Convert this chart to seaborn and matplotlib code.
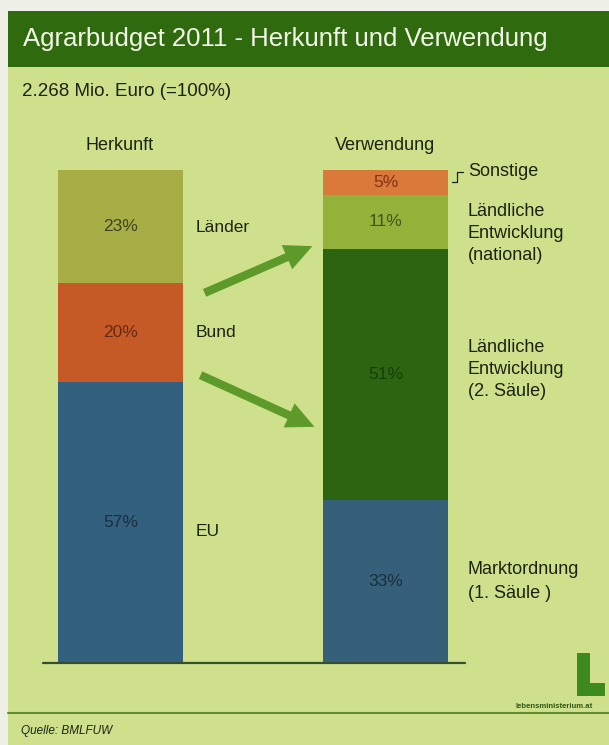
import pandas as pd
import matplotlib.pyplot as plt
import seaborn as sns
from matplotlib.patches import Rectangle, FancyArrowPatch
from matplotlib.lines import Line2D

# Agrarbudget 2011 - origin and use of funds (shares in %)
columns = ["Herkunft", "Verwendung"]

herkunft_labels = ["EU", "Bund", "Länder"]
herkunft_values = [57, 20, 23]
herkunft_colors = ["#33607e", "#c55a26", "#a6ad45"]

verwendung_labels = ["Marktordnung", "Ländliche Entwicklung (2. Säule)",
                     "Ländliche Entwicklung (national)", "Sonstige"]
verwendung_values = [33, 51, 11, 5]
verwendung_colors = ["#36607a", "#2c6412", "#93b23a", "#d9793a"]

pct_colors = {"Herkunft": ["#16283a", "#5a2410", "#34381a"],
              "Verwendung": ["#162a34", "#143a06", "#3a4a12", "#7a2a0e"]}

W, H = 609, 745
BG = "#cfe08c"
HEADER = "#2f6b0e"
TEXT = "#1e2212"

sns.set_theme(style="white")
plt.rcParams["font.family"] = ["Liberation Sans", "DejaVu Sans"]

fig = plt.figure(figsize=(W / 100, H / 100), dpi=100)
fig.patch.set_facecolor("#eef0e8")


def px(x, y):
    return x / W, 1 - y / H


def box(x0, y0, x1, y1, color, z=1):
    # rectangle given in image pixels (y from top)
    fig.add_artist(Rectangle(px(x0, y1), (x1 - x0) / W, (y1 - y0) / H,
                             transform=fig.transFigure, color=color, zorder=z, lw=0))


# panel background and header band
box(8, 11, W, H, BG, 0)
box(8, 11, W, 67, HEADER, 1)

# build stacked layout table
rows = []
for col, labels, vals, colors in [("Herkunft", herkunft_labels, herkunft_values, herkunft_colors),
                                  ("Verwendung", verwendung_labels, verwendung_values, verwendung_colors)]:
    bottom = 0
    for i, (lab, v, c) in enumerate(zip(labels, vals, colors)):
        rows.append({"col": col, "label": lab, "value": v, "top": bottom + v,
                     "mid": bottom + v / 2, "color": c, "txt": pct_colors[col][i]})
        bottom += v
df = pd.DataFrame(rows)

ax = fig.add_axes([0, 0, 1, 1])
ax.patch.set_alpha(0)
# draw tallest cumulative first so lower segments overlay
for _, r in df.sort_values("top", ascending=False).iterrows():
    sns.barplot(x=[r["col"]], y=[r["top"]], order=columns, color=r["color"],
                width=0.475, errorbar=None, linewidth=0, saturation=1, ax=ax)

# map data to pixels: x centers at 120.5 / 385.5 px, y 0 at 663 px, 100 at 170 px
sx = 265.0
sy = (663 - 170) / 100
ax.set_xlim(-120.5 / sx, (W - 120.5) / sx)
ax.set_ylim(-(H - 663) / sy, 663 / sy)
ax.axis("off")

for _, r in df.iterrows():
    xi = columns.index(r["col"])
    ax.text(xi, r["mid"], f"{r['value']}%", ha="center", va="center",
            fontsize=12.5, color=r["txt"], alpha=0.9)

# baseline
ax.add_line(Line2D([(43 - 120.5) / sx, (465 - 120.5) / sx], [0, 0],
                   color="#34502a", lw=1.6))

# titles
fig.text(*px(23, 39), "Agrarbudget 2011 - Herkunft und Verwendung", color="#f4f8e8",
         fontsize=18.5, va="center", ha="left")
fig.text(*px(22, 92), "2.268 Mio. Euro (=100%)", color=TEXT, fontsize=13.5, va="center")
fig.text(*px(120, 146), "Herkunft", color=TEXT, fontsize=13, ha="center", va="center")
fig.text(*px(385, 146), "Verwendung", color=TEXT, fontsize=13, ha="center", va="center")

# left side labels
for lab, y in zip(["Länder", "Bund", "EU"], [228, 333, 531]):
    fig.text(*px(196, y), lab, color=TEXT, fontsize=12.5, va="center")

# right side labels
right_lines = [("Sonstige", 171), ("Ländliche", 212), ("Entwicklung", 234), ("(national)", 256),
               ("Ländliche", 347), ("Entwicklung", 369), ("(2. Säule)", 391),
               ("Marktordnung", 570), ("(1. Säule )", 593)]
for lab, y in right_lines:
    fig.text(*px(468, y), lab, color=TEXT, fontsize=13, va="center")

# bracket next to Sonstige
fig.add_artist(Line2D([452 / W, 457 / W, 457 / W, 463 / W],
                      [1 - 182 / H, 1 - 182 / H, 1 - 172 / H, 1 - 172 / H],
                      transform=fig.transFigure, color=TEXT, lw=0.9))

# arrows
for (x0, y0), (x1, y1) in [((202, 294), (315, 245)), ((198, 374), (317, 428))]:
    fig.add_artist(FancyArrowPatch(px(x0, y0), px(x1, y1), transform=fig.transFigure,
                                   arrowstyle="simple,head_width=1.9,head_length=2.0,tail_width=0.6",
                                   mutation_scale=10, color="#5e9a2a", lw=0))

# logo: thick green L
box(577, 653, 590, 696, "#3f8a1e", 2)
box(577, 683, 605, 696, "#3f8a1e", 2)
fig.text(*px(554, 706), "lebensministerium.at", color="#2e5a16", fontsize=5.6,
         ha="center", va="center", fontweight="bold")

# footer
fig.add_artist(Line2D([8 / W, 1], [1 - 713 / H, 1 - 713 / H], transform=fig.transFigure,
                      color="#5e8e30", lw=1.5))
fig.text(*px(21, 731), "Quelle: BMLFUW", color=TEXT, fontsize=8.5, style="italic", va="center")

fig.savefig("out.png", dpi=100, facecolor=fig.get_facecolor())
